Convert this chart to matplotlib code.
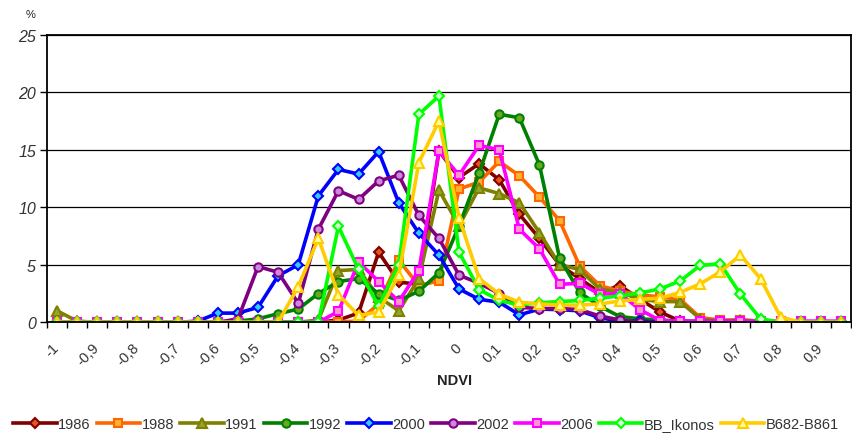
import numpy as np
import matplotlib
matplotlib.use("Agg")
import matplotlib.pyplot as plt
from matplotlib.transforms import ScaledTranslation

plt.rcParams['font.family'] = ['Liberation Sans', 'DejaVu Sans']

# NDVI classes (category axis, step 0.05)
ndvi = [-1.0, -0.95, -0.9, -0.85, -0.8, -0.75, -0.7, -0.65, -0.6, -0.55,
        -0.5, -0.45, -0.4, -0.35, -0.3, -0.25, -0.2, -0.15, -0.1, -0.05,
        0.0, 0.05, 0.1, 0.15, 0.2, 0.25, 0.3, 0.35, 0.4, 0.45,
        0.5, 0.55, 0.6, 0.65, 0.7, 0.75, 0.8, 0.85, 0.9, 0.95]
tick_labels = ["-1", "-0,9", "-0,8", "-0,7", "-0,6", "-0,5", "-0,4", "-0,3", "-0,2", "-0,1",
               "0", "0,1", "0,2", "0,3", "0,4", "0,5", "0,6", "0,7", "0,8", "0,9"]

# percentage of pixels per class
s1986 = [0, 0, 0, 0, 0, 0, 0, 0, 0, 0,
         0, 0, 0, 0, 0.2, 0.8, 6.1, 3.5, 3.3, 14.9,
         12.6, 13.8, 12.4, 9.4, 7.3, 5.0, 3.8, 2.6, 3.2, 2.0,
         0.9, 0.1, 0, 0, 0, 0, 0, 0, 0, 0]
s1988 = [0, 0, 0, 0, 0, 0, 0, 0, 0, 0,
         0, 0, 0, 0, 0.05, 0.1, 1.6, 5.4, 3.2, 3.6,
         11.6, 12.2, 14.0, 12.75, 10.9, 8.85, 4.9, 3.2, 2.7, 2.4,
         2.2, 2.0, 0.4, 0.2, 0.2, 0.1, 0, 0, 0, 0]
s1991 = [1.0, 0.1, 0, 0, 0, 0, 0, 0, 0, 0,
         0, 0, 0, 0.2, 4.5, 4.6, 2.2, 1.0, 3.8, 11.5,
         8.4, 11.7, 11.2, 10.4, 7.8, 5.0, 4.6, 2.9, 2.6, 2.0,
         1.8, 1.8, 0.3, 0.1, 0.2, 0.1, 0, 0, 0, 0]
s1992 = [0, 0, 0, 0, 0, 0, 0, 0, 0, 0.1,
         0.3, 0.75, 1.15, 2.5, 3.55, 3.8, 2.5, 1.9, 2.7, 4.3,
         8.4, 13.0, 18.1, 17.8, 13.7, 5.6, 2.6, 1.4, 0.5, 0.3,
         0.2, 0.1, 0.1, 0.1, 0.1, 0, 0, 0, 0, 0]
s2000 = [0, 0, 0, 0, 0, 0, 0, 0.1, 0.8, 0.8,
         1.3, 4.05, 5.0, 11.0, 13.3, 12.9, 14.85, 10.4, 7.75, 5.85,
         2.9, 2.0, 1.75, 0.65, 1.15, 1.1, 1.0, 0.4, 0.1, 0.1,
         0, 0, 0, 0, 0, 0, 0, 0, 0, 0]
s2002 = [0, 0, 0, 0, 0, 0, 0, 0, 0, 0.3,
         4.85, 4.35, 1.65, 8.1, 11.45, 10.7, 12.3, 12.8, 9.3, 7.3,
         4.1, 3.4, 2.5, 1.3, 1.2, 1.2, 1.1, 0.55, 0.2, 0,
         0, 0, 0, 0, 0, 0, 0, 0, 0, 0]
s2006 = [0, 0, 0, 0, 0, 0, 0, 0, 0, 0,
         0, 0, 0, 0, 0.95, 5.25, 3.55, 1.8, 4.5, 14.9,
         12.8, 15.4, 15.0, 8.1, 6.4, 3.3, 3.4, 2.45, 2.5, 1.1,
         0.15, 0.1, 0.1, 0.1, 0.1, 0.1, 0.1, 0.1, 0.1, 0.1]
s_bb = [0, 0, 0, 0, 0, 0, 0, 0, 0, 0,
        0, 0, 0, 0, 8.35, 4.6, 1.4, 5.0, 18.1, 19.7,
        6.1, 2.85, 1.9, 1.5, 1.7, 1.8, 1.9, 2.1, 2.3, 2.55,
        2.9, 3.6, 4.95, 5.1, 2.45, 0.3, 0, 0, 0, 0]
s_b682 = [0, 0, 0, 0, 0, 0, 0, 0, 0, 0,
          0, 0, 3.1, 7.3, 2.4, 0.6, 0.9, 4.1, 13.9, 17.5,
          9.1, 3.8, 2.45, 1.75, 1.6, 1.5, 1.5, 1.6, 1.85, 2.0,
          2.1, 2.6, 3.35, 4.4, 5.85, 3.8, 0.45, 0, 0, 0]

series = [
    ("1986", s1986, "#800000", "D", "#e8541a", 5.5),
    ("1988", s1988, "#ff6600", "s", "#ffb030", 6),
    ("1991", s1991, "#808000", "^", "#8fa82a", 7),
    ("1992", s1992, "#008000", "o", "#66aa22", 6),
    ("2000", s2000, "#0000ff", "D", "#33ccff", 5.5),
    ("2002", s2002, "#800080", "o", "#cc88dd", 6),
    ("2006", s2006, "#ff00ff", "s", "#ff99cc", 6),
    ("BB_Ikonos", s_bb, "#00ff00", "D", "#ccffcc", 5.5),
    ("B682-B861", s_b682, "#ffcc00", "^", "#ffff99", 7),
]

fig = plt.figure(figsize=(8.52, 4.39), dpi=100)
ax = fig.add_axes([47 / 852, 1 - 323.3 / 439, 804 / 852, (323.3 - 36) / 439])

x = np.arange(len(ndvi))
for name, vals, col, mk, face, ms in series:
    ax.plot(x, vals, color=col, lw=2.6, marker=mk, markersize=ms,
            markerfacecolor=face, markeredgecolor=col, markeredgewidth=1.5,
            label=name, solid_joinstyle='round')

ax.set_xlim(-0.5, len(ndvi) - 0.5)
ax.set_ylim(0, 25)
ax.set_yticks([0, 5, 10, 15, 20, 25])
ax.yaxis.grid(True, color='black', lw=0.9)
ax.set_axisbelow(True)
for sp in ax.spines.values():
    sp.set_linewidth(1.3)
    sp.set_color('black')

ax.tick_params(axis='y', length=5, width=1, colors='black', labelcolor='#333333',
               labelsize=11.5, pad=3)
for lab in ax.get_yticklabels():
    lab.set_fontstyle('italic')

# labels every second class, small ticks at class borders
ax.set_xticks(x[::2])
ax.set_xticklabels(tick_labels, rotation=45, ha='right', va='top',
                   rotation_mode='anchor', fontsize=10.5, color='#333333')
ax.set_xticks(np.arange(-0.5, len(ndvi), 1), minor=True)
ax.tick_params(axis='x', which='major', length=0, pad=13)
ax.tick_params(axis='x', which='minor', length=4, width=1, color='black')
shift = ScaledTranslation(-5 / 100, 0, fig.dpi_scale_trans)
for lab in ax.get_xticklabels():
    lab.set_transform(lab.get_transform() + shift)

fig.text(455 / 852, 1 - 381 / 439, "NDVI", ha='center', va='center',
         fontsize=10.5, fontweight='bold', color='#222222')
fig.text(31 / 852, 1 - 15 / 439, "%", ha='center', va='center',
         fontsize=8, color='#222222')

fig.legend(loc='center', bbox_to_anchor=(0.5, 1 - 425 / 439), ncol=9,
           frameon=False, fontsize=10.5, handlelength=3.0, handletextpad=0.1,
           columnspacing=0.4, labelcolor='#333333')

fig.savefig("out.png", dpi=100)
